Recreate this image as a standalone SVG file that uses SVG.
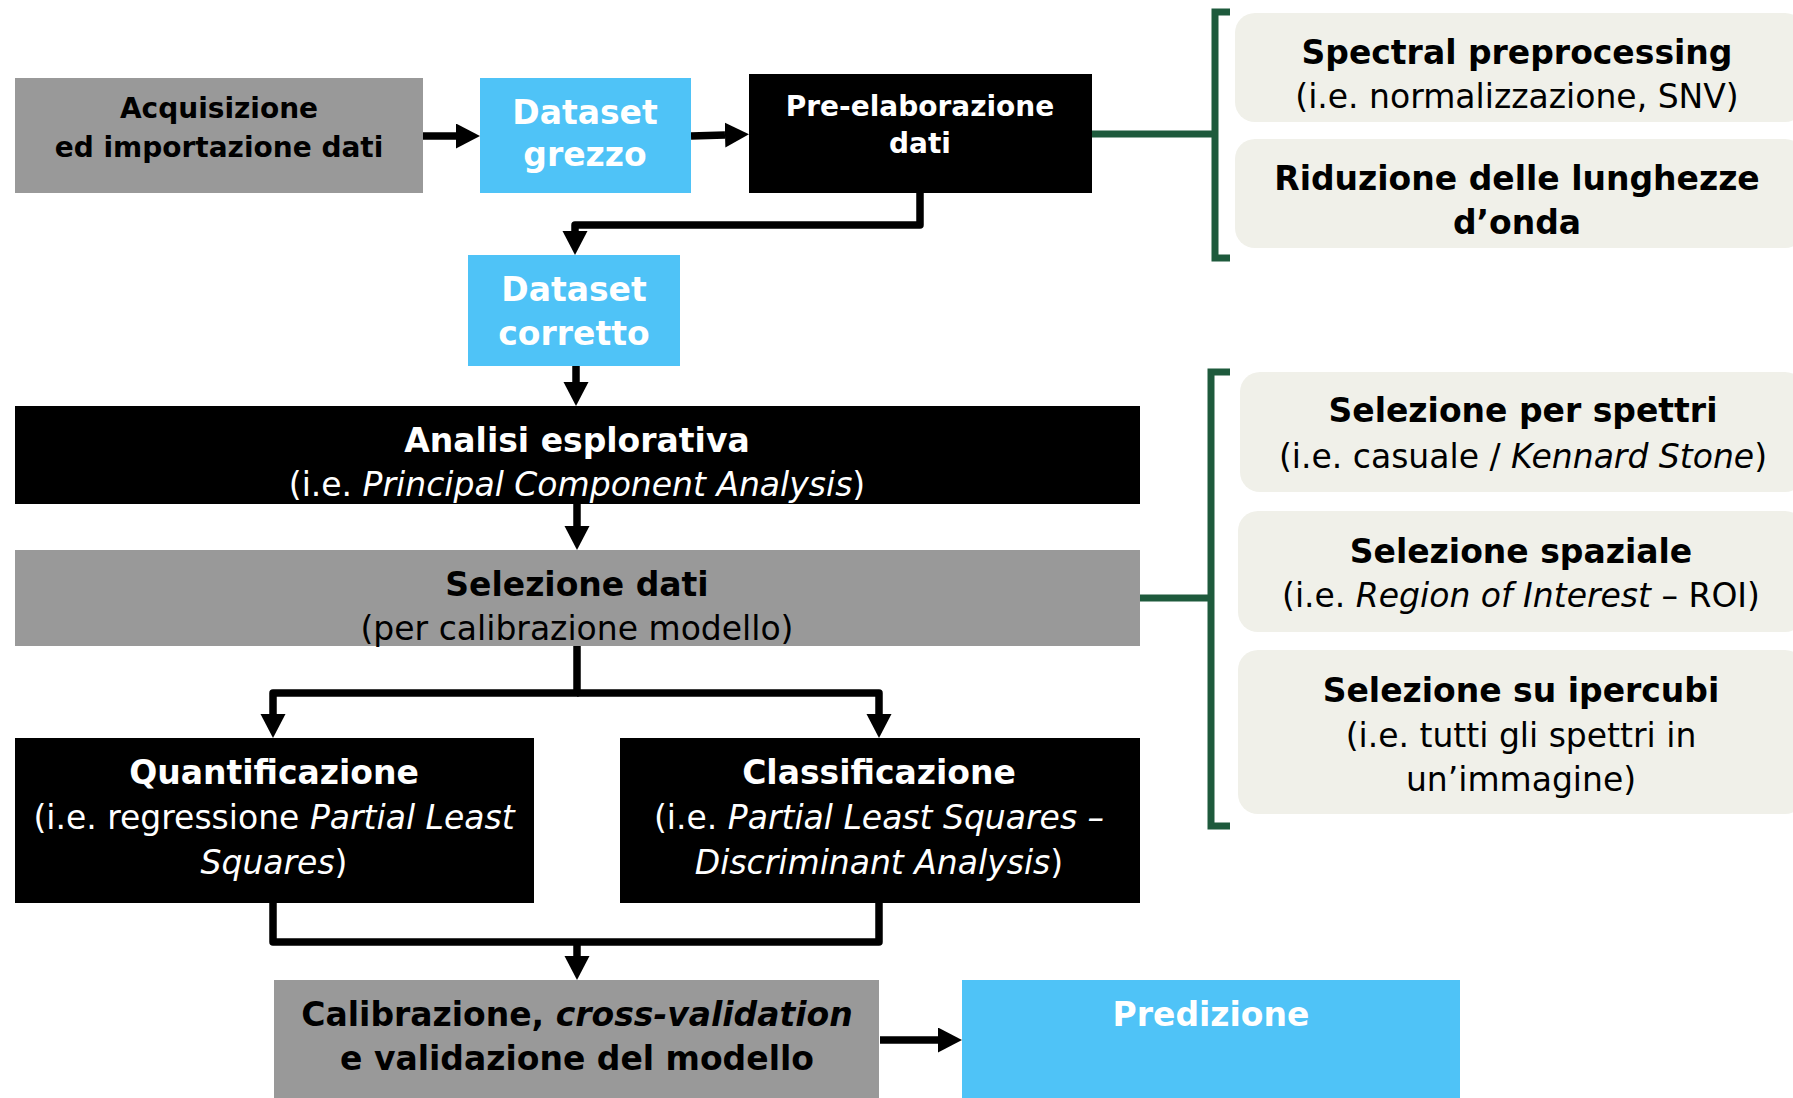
<svg xmlns="http://www.w3.org/2000/svg" width="1793" height="1098" viewBox="0 0 1793 1098">
<defs>
<style>
text{font-family:"DejaVu Sans","Liberation Sans",sans-serif;text-anchor:middle}
.b{font-weight:bold}
.i{font-style:italic}
.s28{font-size:28px}
.s33{font-size:33px}
.wt{fill:#ffffff}
.bk{fill:#000000}
.gray{fill:#999999}
.blue{fill:#4FC3F7}
.black{fill:#000000}
.beige{fill:#F0F0E9}
.conn{fill:none;stroke:#000;stroke-width:7.5;stroke-linejoin:round}
.grn{fill:none;stroke:#1E5A3C;stroke-width:7}
</style>
<marker id="ah" markerUnits="userSpaceOnUse" markerWidth="26" markerHeight="26" refX="0" refY="12.5" orient="auto">
<path d="M0,0 L24,12.5 L0,25 z" fill="#000"/>
</marker>
</defs>

<g id="connectors">
<path class="conn" d="M423,136 H456" marker-end="url(#ah)"/>
<path class="conn" d="M691,136 L725,135" marker-end="url(#ah)"/>
<path class="conn" d="M920,193 V225 H575 V231" marker-end="url(#ah)"/>
<path class="conn" d="M576,366 V382" marker-end="url(#ah)"/>
<path class="conn" d="M577,504 V526" marker-end="url(#ah)"/>
<path class="conn" d="M577,646 V693 H273 V714" marker-end="url(#ah)"/>
<path class="conn" d="M577,693 H879 V714" marker-end="url(#ah)"/>
<path class="conn" d="M273,903 V942 H879 V903"/>
<path class="conn" d="M577,942 V956" marker-end="url(#ah)"/>
<path class="conn" d="M880,1040 H938" marker-end="url(#ah)"/>
<path class="grn" d="M1092,134 H1215"/>
<path class="grn" d="M1230,12 H1215 V258 H1230"/>
<path class="grn" d="M1139,598 H1211"/>
<path class="grn" d="M1230,372 H1211 V826 H1230"/>
</g>

<g id="acquisizione">
<rect class="gray" x="15" y="78" width="408" height="115"/>
<text class="b s28 bk" x="219" y="118">Acquisizione</text>
<text class="b s28 bk" x="219" y="157">ed importazione dati</text>
</g>

<g id="dataset-grezzo">
<rect class="blue" x="480" y="78" width="211" height="115"/>
<text class="b s33 wt" x="585" y="124">Dataset</text>
<text class="b s33 wt" x="585" y="166">grezzo</text>
</g>

<g id="pre-elaborazione">
<rect class="black" x="749" y="74" width="343" height="119"/>
<text class="b s28 wt" x="920" y="116">Pre-elaborazione</text>
<text class="b s28 wt" x="920" y="153">dati</text>
</g>

<g id="spectral-preprocessing">
<rect class="beige" x="1235" y="13" width="570" height="109" rx="20"/>
<text class="b s33 bk" x="1517" y="64">Spectral preprocessing</text>
<text class="s33 bk" x="1517" y="108">(i.e. normalizzazione, SNV)</text>
</g>

<g id="riduzione">
<rect class="beige" x="1235" y="139" width="570" height="109" rx="20"/>
<text class="b s33 bk" x="1517" y="190">Riduzione delle lunghezze</text>
<text class="b s33 bk" x="1517" y="234">d’onda</text>
</g>

<g id="dataset-corretto">
<rect class="blue" x="468" y="255" width="212" height="111"/>
<text class="b s33 wt" x="574" y="301">Dataset</text>
<text class="b s33 wt" x="574" y="345">corretto</text>
</g>

<g id="analisi-esplorativa">
<rect class="black" x="15" y="406" width="1125" height="98"/>
<text class="b s33 wt" x="577" y="452">Analisi esplorativa</text>
<text class="s33 wt" x="577" y="496">(i.e. <tspan class="i">Principal Component Analysis</tspan>)</text>
</g>

<g id="selezione-dati">
<rect class="gray" x="15" y="550" width="1125" height="96"/>
<text class="b s33 bk" x="577" y="596">Selezione dati</text>
<text class="s33 bk" x="577" y="640">(per calibrazione modello)</text>
</g>

<g id="selezione-spettri">
<rect class="beige" x="1240" y="372" width="565" height="120" rx="20"/>
<text class="b s33 bk" x="1523" y="422">Selezione per spettri</text>
<text class="s33 bk" x="1523" y="468">(i.e. casuale / <tspan class="i">Kennard Stone</tspan>)</text>
</g>

<g id="selezione-spaziale">
<rect class="beige" x="1238" y="511" width="567" height="121" rx="20"/>
<text class="b s33 bk" x="1521" y="563">Selezione spaziale</text>
<text class="s33 bk" x="1521" y="607">(i.e. <tspan class="i">Region of Interest</tspan> – ROI)</text>
</g>

<g id="selezione-ipercubi">
<rect class="beige" x="1238" y="650" width="567" height="164" rx="20"/>
<text class="b s33 bk" x="1521" y="702">Selezione su ipercubi</text>
<text class="s33 bk" x="1521" y="747">(i.e. tutti gli spettri in</text>
<text class="s33 bk" x="1521" y="791">un’immagine)</text>
</g>

<g id="quantificazione">
<rect class="black" x="15" y="738" width="519" height="165"/>
<text class="b s33 wt" x="274" y="784">Quantificazione</text>
<text class="s33 wt" x="274" y="829">(i.e. regressione <tspan class="i">Partial Least</tspan></text>
<text class="s33 wt" x="274" y="874"><tspan class="i">Squares</tspan>)</text>
</g>

<g id="classificazione">
<rect class="black" x="620" y="738" width="520" height="165"/>
<text class="b s33 wt" x="879" y="784">Classificazione</text>
<text class="s33 wt" x="879" y="829">(i.e. <tspan class="i">Partial Least Squares –</tspan></text>
<text class="s33 wt" x="879" y="874"><tspan class="i">Discriminant Analysis</tspan>)</text>
</g>

<g id="calibrazione">
<rect class="gray" x="274" y="980" width="605" height="118"/>
<text class="b s33 bk" x="577" y="1026">Calibrazione, <tspan class="i">cross-validation</tspan></text>
<text class="b s33 bk" x="577" y="1070">e validazione del modello</text>
</g>

<g id="predizione">
<rect class="blue" x="962" y="980" width="498" height="118"/>
<text class="b s33 wt" x="1211" y="1026">Predizione</text>
</g>
</svg>
